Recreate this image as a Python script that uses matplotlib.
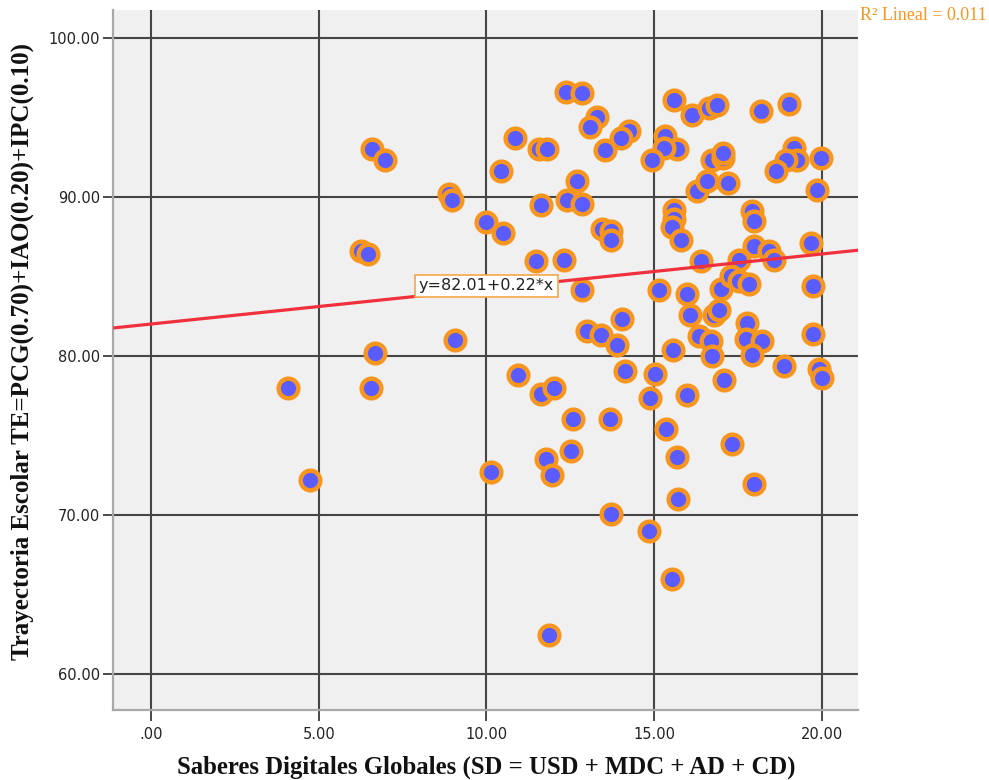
import matplotlib
matplotlib.use("Agg")
import matplotlib.pyplot as plt

# Saberes Digitales Globales (x) vs Trayectoria Escolar (y)
saberes = [
    4.09, 4.75, 6.27, 6.48, 6.60, 6.99, 6.57, 6.69, 8.90, 8.96,
    9.06, 10.00, 10.49, 10.44, 10.86, 11.57, 11.80, 11.64, 11.47, 10.94,
    11.62, 10.13, 12.36, 12.86, 13.30, 13.10, 14.25, 14.02, 13.53, 12.71,
    12.41, 12.86, 13.45, 13.73, 13.73, 12.31, 12.84, 15.14, 15.99, 14.03,
    12.99, 13.42, 13.88, 15.57, 16.07, 15.59, 16.14, 15.34, 15.69, 15.29,
    14.95, 16.29, 15.59, 15.59, 15.54, 15.79, 16.64, 16.87, 18.20, 19.02,
    16.74, 17.06, 17.06, 16.59, 17.20, 19.17, 19.27, 18.93, 18.63, 19.99,
    19.87, 17.93, 17.98, 19.67, 16.39, 17.53, 17.98, 18.43, 18.58, 16.99,
    17.28, 17.53, 17.83, 19.75, 16.79, 16.93, 16.34, 16.69, 17.78, 17.73,
    18.23, 19.75, 16.74, 17.93, 18.87, 19.92, 20.02, 15.04, 14.87, 15.99,
    17.08, 15.37, 17.33, 15.67, 17.98, 15.71, 14.84, 12.03, 12.59, 13.70,
    11.78, 12.51, 11.96, 13.73, 15.54, 11.86, 14.13,
]
trayectoria = [
    78.00, 72.20, 86.60, 86.40, 93.00, 92.30, 78.00, 80.20, 90.20, 89.80,
    81.00, 88.45, 87.70, 91.60, 93.70, 93.00, 93.00, 89.50, 86.00, 78.80,
    77.60, 72.70, 96.60, 96.50, 95.00, 94.40, 94.15, 93.70, 92.97, 90.98,
    89.83, 89.58, 88.00, 87.84, 87.30, 86.06, 84.12, 84.15, 83.87, 82.34,
    81.56, 81.34, 80.67, 80.40, 82.55, 96.10, 95.17, 93.80, 93.00, 93.08,
    92.34, 90.35, 89.20, 88.60, 88.10, 87.30, 95.60, 95.75, 95.37, 95.84,
    92.34, 92.45, 92.76, 90.98, 90.88, 93.08, 92.34, 92.34, 91.60, 92.45,
    90.40, 89.10, 88.50, 87.10, 85.96, 86.06, 86.90, 86.60, 86.06, 84.18,
    85.00, 84.70, 84.50, 84.43, 82.60, 82.88, 81.25, 80.94, 82.10, 81.04,
    80.94, 81.36, 80.00, 80.04, 79.37, 79.20, 78.64, 78.85, 77.34, 77.53,
    78.48, 75.44, 74.50, 73.68, 71.98, 71.04, 69.03, 78.00, 76.02, 76.02,
    73.50, 74.03, 72.52, 70.06, 66.02, 62.50, 79.05,
]

# Linear fit reported on the chart
intercept = 82.01
slope = 0.22
r2_text = "R\u00b2 Lineal = 0.011"
eq_text = "y=82.01+0.22*x"

x_ticks = [0, 5, 10, 15, 20]
x_tick_labels = [".00", "5.00", "10.00", "15.00", "20.00"]
y_ticks = [60, 70, 80, 90, 100]
y_tick_labels = ["60.00", "70.00", "80.00", "90.00", "100.00"]

x_label = "Saberes Digitales Globales (SD = USD + MDC + AD + CD)"
y_label = "Trayectoria Escolar TE=PCG(0.70)+IAO(0.20)+IPC(0.10)"

serif = ["Liberation Serif", "DejaVu Serif"]
sans = ["DejaVu Sans"]

fig = plt.figure(figsize=(9.89, 7.80), dpi=100)
ax = fig.add_axes([113.3 / 989, 1 - 710 / 780, (858 - 113.3) / 989, (710 - 10) / 780])
ax.set_facecolor("#f0f0f0")

xmin, xmax = -1.124, 21.08
ymin, ymax = 57.76, 101.74
ax.set_xlim(xmin, xmax)
ax.set_ylim(ymin, ymax)

ax.set_xticks(x_ticks)
ax.set_xticklabels(x_tick_labels, family=sans, fontsize=10.5, color="#222222")
ax.set_yticks(y_ticks)
ax.set_yticklabels(y_tick_labels, family=sans, fontsize=10.5, color="#222222")
ax.tick_params(axis="x", length=8, width=1.4, color="#4a4a4a", pad=4)
ax.tick_params(axis="y", length=7.5, width=1.4, color="#4a4a4a", pad=2)

ax.grid(True, color="#454545", linewidth=1.5, zorder=1)
ax.set_axisbelow(True)

for side in ("top", "right"):
    ax.spines[side].set_visible(False)
for side in ("left", "bottom"):
    ax.spines[side].set_color("#a8a8a8")
    ax.spines[side].set_linewidth(1.6)

ax.scatter(saberes, trayectoria, s=200, facecolor="#5b5cff", edgecolor="#f7961e",
           linewidths=3.2, zorder=3)

# Fit line across the full x range
lx = [xmin, xmax]
ly = [intercept + slope * v for v in lx]
ax.plot(lx, ly, color="#f0303c", linewidth=2.3, zorder=4, solid_capstyle="butt")

ax.text(10.0, 84.4, eq_text, ha="center", va="center", fontsize=11.5,
        family=sans, color="#222222", zorder=5,
        bbox=dict(boxstyle="square,pad=0.22", facecolor="white",
                  edgecolor="#f7a64a", linewidth=1.2))

fig.text(860 / 989, 1 - 16 / 780, r2_text, ha="left", va="center",
         fontsize=13, family=serif, color="#f7961e")

fig.text(486 / 989, 1 - 767 / 780, x_label, ha="center", va="center",
         fontsize=17.8, fontweight="bold", family=serif, color="#111111")
fig.text(22 / 989, 1 - 351 / 780, y_label, ha="center", va="center",
         rotation=90, fontsize=18, fontweight="bold", family=serif, color="#111111")

fig.savefig("out.png", dpi=100)
